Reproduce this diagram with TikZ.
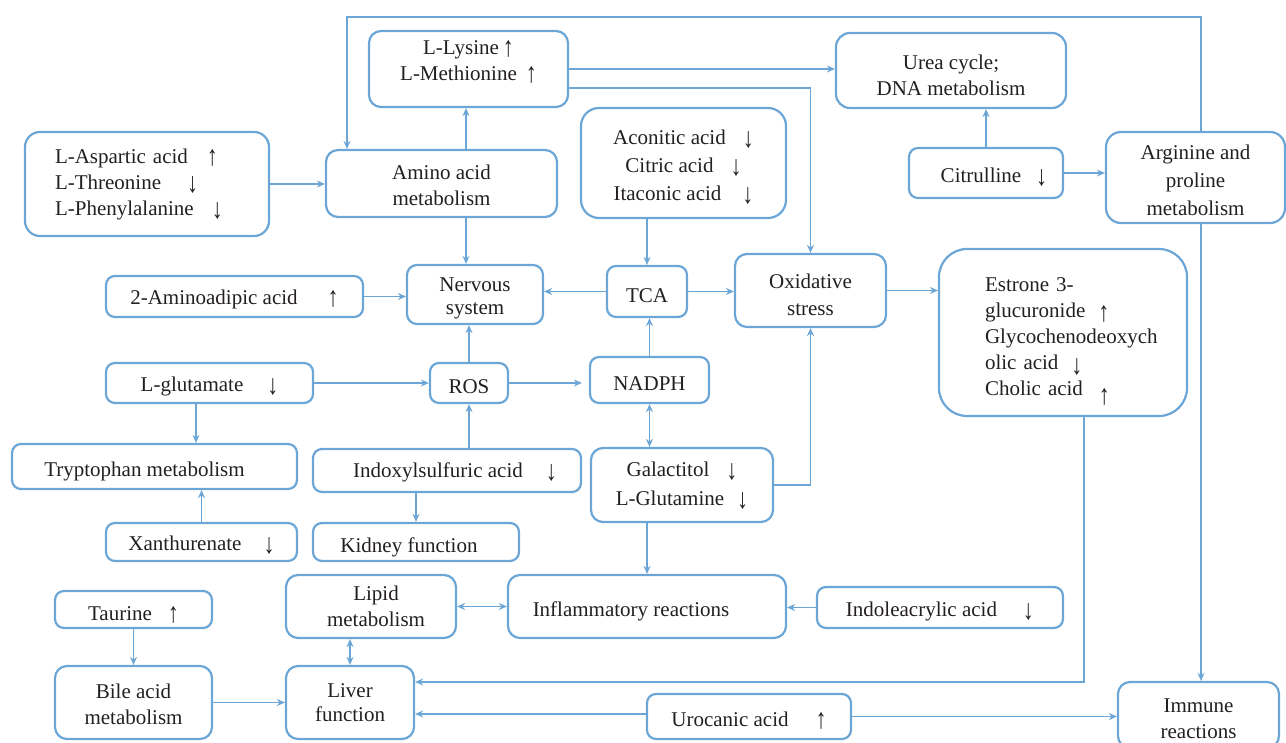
\documentclass[tikz,border=0pt]{standalone}
\usepackage{fontspec}
\setmainfont{Liberation Serif}
\usetikzlibrary{arrows.meta}
\definecolor{bl}{RGB}{108,166,214}
\definecolor{tx}{RGB}{35,31,32}
\tikzset{
 box/.style={draw=bl, line width=2.2pt, rounded corners=9pt, inner sep=0pt},
 txt/.style={inner sep=0pt, align=center, text=tx, font=\fontsize{21}{26}\selectfont},
 arr/.style={draw=bl, line width=1.9pt, -{Stealth[length=8pt,width=7pt]}},
 arr2/.style={draw=bl, line width=1.9pt, {Stealth[length=8pt,width=7pt]}-{Stealth[length=8pt,width=7pt]}},
}
\newcommand\ua[1][2pt]{\raisebox{-#1}{\scalebox{1.05}[1.35]{↑}}}
\newcommand\da[1][3pt]{\raisebox{-#1}{\scalebox{1.05}[1.35]{↓}}}
% \bx[box options]{name}{x1}{y1}{x2}{y2}{text options}{text}
\newcommand\bx[8][]{%
 \node[box,minimum width={(#5-#3)*1pt},minimum height={(#6-#4)*1pt},#1] (#2) at ({(#3+#5)/2},{(#4+#6)/2}) {};
 \node[txt,#7] (#2-t) at ([yshift=-4pt]#2.center) {#8};}
\begin{document}
\begin{tikzpicture}[x=1pt,y=-1pt]
\useasboundingbox (0,0) rectangle (1286,743);
% boxes
\bx[rounded corners=12pt]{lys}{369}{31}{568}{107}{yshift=11pt}{L-Lysine\hspace{4pt}\ua\\L-Methionine\hspace{9pt}\ua}
\bx[rounded corners=14pt]{urea}{836}{33}{1066}{108}{yshift=-1pt}{Urea cycle;\\DNA metabolism}
\bx[rounded corners=15pt]{asp}{25}{132}{269}{236}{yshift=4pt,text width=184pt,align=left}{L-Aspartic acid\hspace{19pt}\ua\\L-Threonine\hspace{26pt}\da\\L-Phenylalanine\hspace{18pt}\da}
\bx[rounded corners=12pt]{amino}{326}{150}{557}{217}{yshift=2pt}{Amino acid\\metabolism}
\bx[rounded corners=18pt]{acon}{581}{108}{786}{218}{font=\fontsize{21}{28}\selectfont}{Aconitic acid\hspace{17pt}\da\\Citric acid\hspace{17pt}\da\\Itaconic acid\hspace{21pt}\da}
\bx{cit}{909}{148}{1063}{198}{xshift=8pt}{Citrulline\hspace{15pt}\da}
\bx[rounded corners=15pt]{arg}{1106}{132}{1285}{223}{yshift=1pt,font=\fontsize{21}{28}\selectfont}{Arginine and\\proline\\metabolism}
\bx{amin}{106}{276}{363}{317}{yshift=1pt}{2-Aminoadipic acid\hspace{30pt}\ua}
\bx[rounded corners=10pt]{nerv}{407}{265}{543}{324}{font=\fontsize{21}{23}\selectfont}{Nervous\\system}
\bx{tca}{607}{266}{687}{317}{}{TCA}
\bx[rounded corners=12pt]{ox}{735}{254}{886}{327}{font=\fontsize{21}{27}\selectfont}{Oxidative\\stress}
\bx[rounded corners=28pt]{est}{939}{249}{1187}{416}{text width=156pt,align=left}{Estrone 3-\\glucuronide\hspace{13pt}\smash{\ua[4pt]}\\Glycochenodeoxych\\olic acid\hspace{13pt}\smash{\da[5pt]}\\Cholic acid\hspace{16pt}\smash{\ua[9pt]}}
\bx{glu}{106}{363}{313}{403}{yshift=1pt}{L-glutamate\hspace{24pt}\da}
\bx{ros}{430}{363}{508}{403}{}{ROS}
\bx{nadph}{590}{357}{709}{403}{}{NADPH}
\bx{tryp}{12}{444}{297}{489}{xshift=-10pt,yshift=-1pt}{Tryptophan metabolism}
\bx{indx}{313}{449}{581}{492}{xshift=8pt,yshift=2pt}{Indoxylsulfuric acid\hspace{23pt}\da}
\bx[rounded corners=12pt]{gal}{591}{448}{773}{522}{yshift=3pt,font=\fontsize{21}{29}\selectfont}{Galactitol\hspace{17pt}\da\\L-Glutamine\hspace{13pt}\da}
\bx{xan}{106}{523}{297}{561}{yshift=1pt}{Xanthurenate\hspace{22pt}\da}
\bx{kid}{313}{523}{519}{561}{xshift=-7pt,yshift=-1pt}{Kidney function}
\bx[rounded corners=12pt]{lip}{286}{575}{456}{638}{xshift=5pt,yshift=4pt}{Lipid\\metabolism}
\bx[rounded corners=12pt]{infl}{508}{575}{786}{638}{xshift=-16pt,yshift=-1pt}{Inflammatory reactions}
\bx{indl}{817}{587}{1063}{628}{}{Indoleacrylic acid\hspace{26pt}\da}
\bx{tau}{55}{591}{212}{628}{yshift=-1pt}{Taurine\hspace{16pt}\ua}
\bx[rounded corners=12pt]{bile}{55}{666}{212}{739}{yshift=2pt}{Bile acid\\metabolism}
\bx[rounded corners=12pt]{liv}{286}{666}{414}{739}{yshift=4pt,font=\fontsize{21}{24}\selectfont}{Liver\\function}
\bx{uro}{647}{694}{851}{739}{}{Urocanic acid\hspace{27pt}\ua}
\bx[rounded corners=12pt]{imm}{1118}{682}{1279}{748}{}{Immune\\reactions}
% helper coordinates
\coordinate (tl) at (347,17);
\coordinate (tr) at (1201,17);
\coordinate (xa) at (466,0);
\coordinate (xg) at (196,0);
\coordinate (xe) at (1084,0);
\coordinate (ya) at (0,88);
\coordinate (yb) at (0,485);
\coordinate (yc) at (0,682);
\coordinate (yd) at (0,714);
% connectors
\draw[arr] (arg.north -| tr) -- (tr) -- (tl) -- (amino.north -| tl);
\draw[arr] (amino.north -| xa) -- (lys.south -| xa);
\draw[arr] (asp.east) -- (amino.west |- asp.east);
\draw[arr] (lys.east) -- (urea.west |- lys.east);
\draw[arr] (lys.east |- ya) -| (ox.north);
\draw[arr] (cit.north) -- (urea.south -| cit.north);
\draw[arr] (cit.east) -- (arg.west |- cit.east);
\draw[arr] (arg.south -| tr) -- (imm.north -| tr);
\draw[arr] (amino.south -| xa) -- (nerv.north -| xa);
\draw[arr] (acon.south -| tca.north) -- (tca.north);
\draw[arr] (tca.west) -- (nerv.east |- tca.west);
\draw[arr] (tca.east) -- (ox.west |- tca.east);
\draw[arr] (ox.east) -- (est.west |- ox.east);
\draw[arr] (amin.east) -- (nerv.west |- amin.east);
\draw[arr] (ros.north) -- (nerv.south -| ros.north);
\draw[arr,shorten >=7pt] (ros.east) -- (nadph.west |- ros.east);
\draw[arr] (nadph.north) -- (tca.south -| nadph.north);
\draw[arr2] (nadph.south) -- (gal.north -| nadph.south);
\draw[arr] (gal.east |- yb) -| (ox.south);
\draw[arr] (glu.east) -- (ros.west |- glu.east);
\draw[arr] (glu.south -| xg) -- (tryp.north -| xg);
\draw[arr] (indx.north -| ros.south) -- (ros.south);
\draw[arr] (xan.north) -- (tryp.south -| xan.north);
\draw[arr] (indx.south -| kid.north) -- (kid.north);
\draw[arr] (gal.south -| infl.north) -- (infl.north);
\draw[arr2] (lip.east) -- (infl.west |- lip.east);
\draw[arr] (indl.west) -- (infl.east |- indl.west);
\draw[arr2] (lip.south -| liv.north) -- (liv.north);
\draw[arr] (tau.south) -- (bile.north -| tau.south);
\draw[arr] (bile.east) -- (liv.west |- bile.east);
\draw[arr] (est.south -| xe) |- (liv.east |- yc);
\draw[arr] (uro.west |- yd) -- (liv.east |- yd);
\draw[arr] (uro.east) -- (imm.west |- uro.east);
\end{tikzpicture}
\end{document}
